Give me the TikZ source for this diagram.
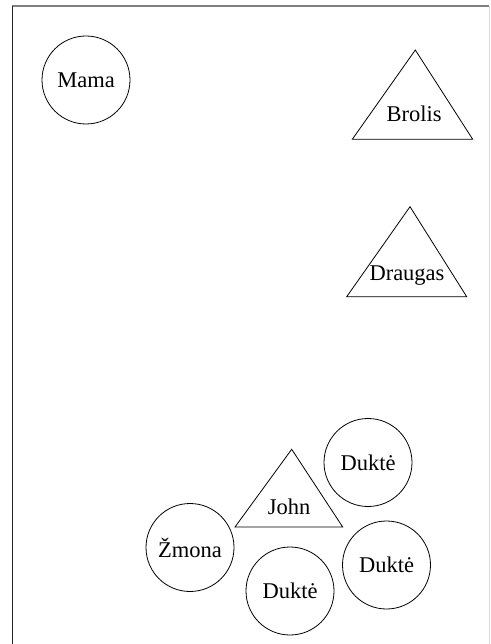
\documentclass[tikz,border=0pt]{standalone}
\usepackage{fontspec}
\setmainfont{Liberation Serif}
\begin{document}
\begin{tikzpicture}[x=1pt,y=-1pt,
  person/.style={draw, circle, minimum size=88pt, inner sep=0pt, line width=0.8pt, font=\fontsize{22.5}{26}\selectfont},
  tri/.style={draw, line width=0.8pt, line join=miter},
  trilabel/.style={anchor=base, inner sep=0pt, font=\fontsize{22.5}{26}\selectfont}]
\useasboundingbox (0,0) rectangle (490,644);
% frame
\draw[black!50, line width=1.2pt] (12,6) -- (489,6);
\draw[black!85, line width=1pt] (12,6) -- (12,644);
\draw[black!15, line width=1pt] (489,6) -- (489,644);
% circles
\node[person] (mama) at (86,80) {Mama};
\node[person] (duk1) at (368,462.5) {Duktė};
\node[person] (zmona) at (190,547.5) {Žmona};
\node[person] (duk2) at (290,591) {Duktė};
\node[person] (duk3) at (386.5,565) {Duktė};
% triangles
\draw[tri] (415.3,50) -- (472.7,139.3) -- (352.3,139.3) -- cycle;
\node[trilabel] (brolis) at (414,121.7) {Brolis};
\draw[tri] (410,206.7) -- (466.7,296.7) -- (346.7,296.7) -- cycle;
\node[trilabel] (draugas) at (407,280.7) {Draugas};
\draw[tri] (291.7,449.3) -- (342.7,527) -- (235,527) -- cycle;
\node[trilabel] (john) at (289,514) {John};
\end{tikzpicture}
\end{document}
